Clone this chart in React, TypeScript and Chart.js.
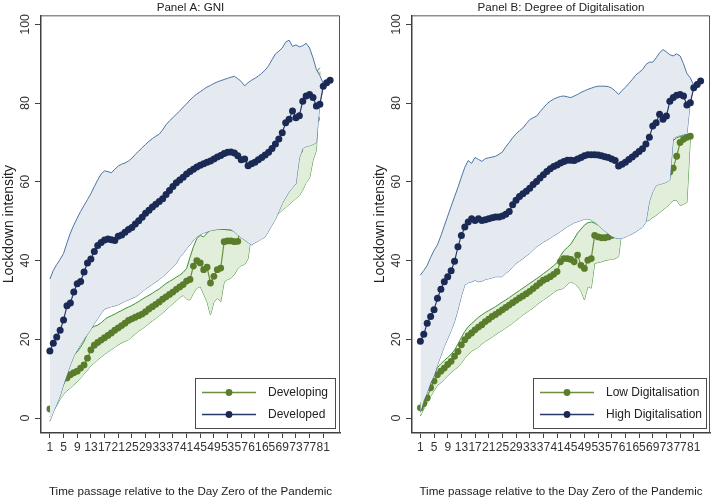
import React, { useEffect, useRef } from "react";
import { Chart, registerables } from "chart.js";

Chart.register(...registerables);

const FONT = '"Liberation Sans", Arial, Helvetica, sans-serif';

// ---------- axis / tick data ----------
const DAY = Array.from({ length: 83 }, (_, k) => k + 1);
const X_TICKS = [1, 5, 9, 13, 17, 21, 25, 29, 33, 37, 41, 45, 49, 53, 57, 61, 65, 69, 73, 77, 81];
const Y_TICKS = [0, 20, 40, 60, 80, 100];

// ---------- Panel A: GNI ----------
const DEVELOPED_A = [
  17.0, 19.0, 20.6, 22.3, 24.9, 28.5, 29.2, 32.0, 34.1, 34.7,
  37.1, 39.4, 40.4, 42.3, 43.8, 44.6, 45.2, 45.5, 45.3, 45.1,
  46.2, 46.5, 47.2, 47.9, 48.4, 49.3, 50.1, 51.0, 52.0, 52.8,
  53.6, 54.3, 55.0, 55.7, 56.8, 57.8, 58.8, 59.8, 60.5, 61.2,
  62.0, 62.6, 63.2, 63.8, 64.2, 64.6, 65.0, 65.3, 65.8, 66.3,
  66.7, 67.2, 67.5, 67.6, 67.3, 66.6, 65.6, 65.8, 64.1, 64.6,
  65.0, 65.6, 66.2, 66.8, 67.5, 68.5, 69.6, 70.9, 72.5, 75.0,
  75.9, 78.0, 76.3, 76.8, 80.5, 81.8, 82.2, 81.4, 79.3, 79.7,
  84.3, 85.2, 85.8,
];
const DEVELOPED_A_HI = [
  35.3, 37.5, 39.0, 40.3, 41.8, 44.5, 47.0, 49.0, 50.8, 52.5,
  54.0, 55.5, 57.0, 58.8, 60.5, 62.0, 62.8, 62.6, 62.3, 63.2,
  64.0, 64.5, 64.8, 65.3, 66.0, 67.0, 67.8, 68.7, 69.5, 70.3,
  71.0, 71.6, 72.1, 73.2, 74.5, 75.5, 76.3, 77.2, 78.0, 79.0,
  79.8, 80.8, 81.6, 82.3, 82.9, 83.5, 84.1, 84.5, 85.0, 85.4,
  85.7, 86.0, 86.3, 86.6, 86.8, 86.2, 85.5, 84.4, 85.2, 85.8,
  86.3, 86.9, 87.6, 88.4, 89.5, 91.0, 92.5, 93.2, 94.0, 95.5,
  96.0, 94.4, 94.8, 94.3, 94.6, 95.2, 94.0, 91.5, 88.5, 87.0,
  85.0,
];
const DEVELOPED_A_LO = [
  -0.8, 1.5, 3.5, 5.6, 8.5, 11.0, 13.5, 15.7, 17.2, 18.7,
  20.0, 21.3, 22.5, 24.0, 25.3, 26.6, 27.7, 28.0, 28.3, 28.5,
  28.8, 29.2, 29.7, 30.0, 30.4, 30.8, 31.4, 32.1, 32.8, 33.4,
  34.0, 34.6, 35.2, 35.9, 36.7, 37.5, 38.4, 39.3, 40.8, 41.8,
  43.0, 44.0, 45.2, 46.0, 46.6, 47.0, 47.3, 47.6, 47.8, 47.9,
  48.0, 48.0, 48.0, 47.9, 47.3, 46.5, 45.8, 45.2, 44.6, 44.0,
  44.5, 45.0, 45.5, 46.0, 47.5, 49.0, 50.5, 52.5, 54.5, 56.0,
  57.5, 58.5, 59.5, 66.0, 68.5, 69.0, 69.2, 69.5, 70.0, 80.0,
  84.0,
];
const DEVELOPING_A = [
  2.3, null, null, null, null, 10.2, 11.0, 11.5, 11.9, 12.7,
  13.5, 15.2, 17.3, 18.5, 19.2, 19.8, 20.4, 21.0, 21.6, 22.3,
  22.9, 23.5, 24.1, 24.8, 25.2, 25.6, 26.0, 26.4, 27.0, 27.7,
  28.3, 28.9, 29.5, 30.2, 30.8, 31.4, 32.0, 32.7, 33.3, 33.9,
  34.8, 35.2, 38.6, 40.0, 39.4, 37.7, 38.3, 34.3, 36.0, 37.7,
  38.1, 44.8, 45.0, 45.0, 44.8, 44.9, 50.0, 51.0, 52.0, 53.0,
  54.0, 55.0, 56.0, 57.0, 58.0, 59.0, 60.0, 61.0, 62.0, 63.0,
  64.0, 65.0, 66.0, 68.0, 71.0, 72.0, 73.0, 74.0, 76.0, 84.0,
];
const DEVELOPING_A_LO = [
  0.3, 1.8, 3.2, 4.8, 6.0, 7.0, 7.6, 8.5, 9.2, 10.2,
  11.2, 12.2, 13.3, 14.0, 14.8, 15.5, 16.2, 16.8, 17.4, 18.0,
  18.6, 19.1, 19.5, 19.9, 20.6, 21.4, 22.1, 22.7, 23.3, 24.0,
  24.7, 25.3, 26.0, 26.7, 27.5, 28.3, 29.0, 29.8, 30.6, 31.2,
  30.2, 30.0, 31.7, 33.0, 33.4, 31.5, 29.5, 26.2, 29.5, 30.4,
  29.6, 34.6, 35.2, 35.5, 36.5, 38.0, 38.8, 39.0, 40.5, 47.0,
  47.5, 48.0, 48.5, 49.5, 50.5, 51.5, 52.0, 52.0, 52.8, 53.5,
  54.2, 55.0, 55.8, 56.5, 58.0, 59.8, 61.0, 65.5, 68.0, 88.0,
];
const DEVELOPING_A_HI = [
  2.5, 3.5, 5.0, 7.0, 10.0, 13.5, 15.0, 16.0, 16.8, 18.0,
  19.5, 21.5, 22.8, 23.3, 23.6, 24.2, 25.0, 25.6, 26.0, 26.4,
  26.9, 27.3, 27.8, 28.2, 28.6, 29.1, 29.6, 30.2, 30.7, 31.2,
  31.7, 32.3, 32.8, 33.5, 34.2, 34.7, 35.2, 35.8, 36.3, 37.0,
  38.0, 40.8, 43.5, 45.6, 46.4, 46.0, 47.0, 47.7, 47.8, 47.9,
  48.0, 47.9, 47.8, 47.7, 47.5, 47.0, 46.8, 47.5, 49.0, 51.0,
  53.0, 54.0, 55.0, 56.0, 58.0, 60.0, 62.0, 64.0, 66.0, 68.0,
  70.0, 72.0, 74.0, 76.0, 78.0, 80.0, 82.0, 85.0, 88.0, 89.0,
];

// ---------- Panel B: Degree of Digitalisation ----------
const HIGH_DIG_B = [
  19.5, 21.3, 24.1, 25.8, 27.5, 30.4, 32.7, 34.6, 35.9, 37.4,
  39.8, 43.5, 46.4, 48.5, 49.8, 50.6, 50.2, 50.6, 50.2, 50.4,
  50.6, 50.9, 51.1, 51.1, 51.3, 51.8, 52.5, 54.2, 55.3, 56.3,
  57.0, 57.6, 58.4, 59.3, 60.1, 61.0, 61.8, 62.6, 63.3, 63.9,
  64.3, 64.8, 65.2, 65.5, 65.5, 65.4, 65.8, 66.2, 66.6, 66.9,
  66.9, 66.9, 66.8, 66.6, 66.4, 66.2, 65.8, 65.4, 64.0, 64.5,
  65.0, 65.7, 66.3, 67.0, 67.7, 68.4, 69.6, 71.3, 74.2, 75.0,
  77.2, 75.9, 76.7, 80.5, 81.4, 82.0, 82.2, 81.8, 79.5, 80.1,
  83.9, 84.7, 85.6,
];
const HIGH_DIG_B_HI = [
  36.3, 37.5, 38.8, 40.8, 42.6, 44.0, 46.3, 48.8, 51.3, 53.8,
  56.2, 58.6, 61.2, 63.7, 65.4, 64.7, 66.2, 65.7, 65.2, 65.9,
  66.1, 66.3, 66.5, 67.0, 67.6, 68.9, 70.0, 71.2, 72.2, 73.0,
  73.7, 74.8, 75.8, 76.3, 76.7, 77.8, 78.8, 79.8, 80.5, 81.0,
  81.4, 81.7, 81.8, 81.6, 81.4, 81.8, 82.2, 82.7, 83.1, 83.5,
  83.8, 84.1, 84.3, 84.3, 84.3, 84.2, 83.8, 83.1, 82.2, 83.2,
  84.0, 85.0, 86.0, 87.1, 87.8, 88.5, 89.8, 90.4, 90.4, 91.5,
  92.8, 93.6, 93.0, 92.3, 92.0, 92.5, 92.0, 90.0, 87.5, 86.4,
  84.5,
];
const HIGH_DIG_B_LO = [
  1.5, 4.5, 6.5, 9.0, 10.8, 13.5, 15.8, 18.2, 20.2, 22.2,
  24.5, 27.5, 31.0, 33.8, 34.4, 34.6, 35.0, 34.6, 34.8, 35.2,
  35.4, 35.6, 35.9, 35.9, 35.9, 36.8, 37.4, 38.4, 39.3, 39.9,
  40.5, 41.2, 41.8, 42.7, 43.5, 44.1, 44.7, 45.2, 45.7, 46.3,
  46.8, 47.4, 48.0, 48.6, 49.1, 49.6, 49.9, 50.2, 50.5, 50.6,
  50.3, 49.8, 49.0, 48.2, 47.5, 46.8, 46.2, 45.8, 45.6, 45.7,
  46.0, 46.4, 46.8, 47.3, 47.9, 48.5, 49.8, 55.0, 57.5, 59.1,
  59.4, 59.6, 59.9, 60.5, 71.0, 71.6, 71.8, 72.0, 72.2, 80.5,
  84.0,
];
const LOW_DIG_B = [
  2.6, 3.7, 5.1, 7.7, 9.4, 11.0, 11.9, 12.7, 13.6, 14.4,
  15.7, 16.9, 18.6, 19.9, 20.9, 21.6, 22.4, 23.1, 23.7, 24.5,
  25.1, 25.8, 26.3, 26.9, 27.5, 28.1, 28.7, 29.3, 29.9, 30.5,
  31.0, 31.6, 32.2, 32.9, 33.6, 34.3, 35.0, 35.4, 35.9, 36.5,
  37.2, 39.7, 40.5, 40.5, 40.3, 39.7, 41.4, 38.8, 38.0, 40.1,
  40.5, 46.4, 46.0, 45.8, 45.8, 46.0, 46.4, 50.0, 51.0, 52.0,
  53.0, 54.0, 55.0, 55.5, 56.0, 57.0, 58.0, 59.0, 60.0, 60.5,
  61.0, 61.5, 62.0, 62.5, 63.5, 66.5, 70.0, 70.8, 71.3, 71.6,
];
const LOW_DIG_B_LO = [
  0.5, 2.3, 3.9, 5.5, 7.0, 8.3, 9.0, 9.8, 10.8, 11.5,
  12.3, 13.0, 14.0, 15.2, 16.2, 17.0, 17.5, 18.0, 18.8, 19.5,
  20.0, 20.6, 21.2, 21.8, 22.3, 22.9, 23.5, 24.1, 24.8, 25.5,
  26.2, 26.8, 27.4, 28.0, 28.7, 29.4, 30.0, 30.6, 31.2, 31.9,
  32.5, 32.7, 33.0, 34.0, 34.6, 34.2, 33.5, 32.3, 30.0, 33.4,
  33.0, 39.3, 39.5, 39.7, 40.0, 40.2, 40.3, 40.5, 41.0, 48.0,
  49.0, 49.5, 50.0, 50.0, 50.0, 50.0, 50.0, 50.3, 51.0, 51.5,
  52.2, 52.9, 53.6, 54.4, 55.3, 55.4, 54.0, 54.3, 54.8, 71.4,
];
const LOW_DIG_B_HI = [
  3.5, 4.8, 6.5, 9.2, 11.2, 12.8, 13.8, 14.6, 15.4, 16.2,
  17.3, 18.8, 20.5, 22.0, 23.2, 24.0, 24.8, 25.6, 26.2, 26.8,
  27.3, 27.8, 28.3, 28.9, 29.5, 30.0, 30.6, 31.2, 31.8, 32.4,
  33.0, 33.6, 34.2, 34.8, 35.4, 36.0, 36.7, 37.3, 38.0, 38.7,
  39.5, 41.2, 42.5, 43.3, 44.2, 45.5, 47.0, 48.0, 49.0, 49.6,
  49.8, 49.5, 49.0, 48.4, 47.8, 47.2, 46.6, 46.1, 45.9, 50.0,
  52.0, 53.0, 54.0, 55.0, 56.0, 57.0, 58.0, 60.0, 62.0, 64.0,
  66.0, 68.0, 69.0, 70.0, 70.5, 71.2, 71.5, 71.8, 72.0, 71.8,
];

// ---------- styling ----------
const N_DOT = "#1b2a55";
const N_LINE = "#2a3a66";
const N_CI = "#4d74a2";
const N_FILL = "#e5eaf1";
const G_DOT = "#5a7d2b";
const G_LINE = "#6b9140";
const G_CI = "#3f8f34";
const G_FILL = "#e1eed9";
const AXIS = "#404040";
const TEXT = "#222222";

type Num = number | null;
const toPoints = (vals: Num[]) => vals.map((v, k) => ({ x: DAY[k], y: v }));

interface PanelCfg {
  title: string;
  gLabel: string;
  nLabel: string;
  g: Num[]; gLo: Num[]; gHi: Num[];
  n: Num[]; nLo: Num[]; nHi: Num[];
  xMin: number; xMax: number;
  padLeft: number; padRight: number;
  legendW: number; legendInset: number;
}

const PANEL_A: PanelCfg = {
  title: "Panel A: GNI",
  gLabel: "Developing",
  nLabel: "Developed",
  g: DEVELOPING_A, gLo: DEVELOPING_A_LO, gHi: DEVELOPING_A_HI,
  n: DEVELOPED_A, nLo: DEVELOPED_A_LO, nHi: DEVELOPED_A_HI,
  xMin: -1.6, xMax: 85.9,
  padLeft: 0, padRight: 17,
  legendW: 140, legendInset: 5,
};
const PANEL_B: PanelCfg = {
  title: "Panel B: Degree of Digitalisation",
  gLabel: "Low Digitalisation",
  nLabel: "High Digitalisation",
  g: LOW_DIG_B, gLo: LOW_DIG_B_LO, gHi: LOW_DIG_B_HI,
  n: HIGH_DIG_B, nLo: HIGH_DIG_B_LO, nHi: HIGH_DIG_B_HI,
  xMin: -1.45, xMax: 85.75,
  padLeft: 14, padRight: 4,
  legendW: 173, legendInset: 4,
};

function makeLegendPlugin(cfg: PanelCfg) {
  return {
    id: "stataFrameLegend",
    afterDraw(chart: any) {
      const { ctx, chartArea } = chart;
      ctx.save();
      // frame top & right
      ctx.strokeStyle = "#555555";
      ctx.lineWidth = 1;
      ctx.beginPath();
      ctx.moveTo(chartArea.left, chartArea.top + 0.5);
      ctx.lineTo(chartArea.right - 0.5, chartArea.top + 0.5);
      ctx.lineTo(chartArea.right - 0.5, chartArea.bottom);
      ctx.stroke();
      // legend
      const w = cfg.legendW;
      const h = 50;
      const x0 = Math.round(chartArea.right - cfg.legendInset - w);
      const y0 = Math.round(chartArea.bottom - 5 - h);
      ctx.fillStyle = "#ffffff";
      ctx.fillRect(x0, y0, w, h);
      ctx.strokeStyle = "#4a4a4a";
      ctx.lineWidth = 1;
      ctx.strokeRect(x0 + 0.5, y0 + 0.5, w, h);
      const items = [
        { label: cfg.gLabel, line: G_LINE, dot: G_DOT },
        { label: cfg.nLabel, line: N_LINE, dot: N_DOT },
      ];
      items.forEach((it, k) => {
        const cy = y0 + 14.5 + 22 * k;
        ctx.strokeStyle = it.line;
        ctx.lineWidth = 1.3;
        ctx.beginPath();
        ctx.moveTo(x0 + 7, cy);
        ctx.lineTo(x0 + 61, cy);
        ctx.stroke();
        ctx.fillStyle = it.dot;
        ctx.beginPath();
        ctx.arc(x0 + 34, cy, 3.4, 0, Math.PI * 2);
        ctx.fill();
        ctx.fillStyle = TEXT;
        ctx.font = `12px ${FONT}`;
        ctx.textBaseline = "middle";
        ctx.textAlign = "left";
        ctx.fillText(it.label, x0 + 73, cy + 0.5);
      });
      ctx.restore();
    },
  };
}

function Panel({ cfg }: { cfg: PanelCfg }) {
  const ref = useRef<HTMLCanvasElement>(null);
  useEffect(() => {
    const canvas = ref.current;
    if (!canvas) return;
    const ciLine = (data: Num[], color: string, order: number, fill: any, bg?: string) => ({
      data: toPoints(data),
      borderColor: color,
      borderWidth: 1,
      pointRadius: 0,
      fill,
      backgroundColor: bg ?? "rgba(0,0,0,0)",
      tension: 0,
      order,
    });
    const chart = new Chart(canvas, {
      type: "line",
      data: {
        datasets: [
          { label: "g_lo", ...ciLine(cfg.gLo, G_CI, 6, false) },
          { label: "g_hi", ...ciLine(cfg.gHi, G_CI, 5, 0, G_FILL) },
          {
            label: cfg.gLabel,
            data: toPoints(cfg.g),
            borderColor: G_LINE,
            borderWidth: 1.2,
            pointRadius: 3.4,
            pointBackgroundColor: G_DOT,
            pointBorderWidth: 0,
            spanGaps: true,
            fill: false,
            tension: 0,
            order: 4,
          },
          { label: "n_lo", ...ciLine(cfg.nLo, N_CI, 3, false) },
          { label: "n_hi", ...ciLine(cfg.nHi, N_CI, 2, 3, N_FILL) },
          {
            label: cfg.nLabel,
            data: toPoints(cfg.n),
            borderColor: N_LINE,
            borderWidth: 1.2,
            pointRadius: 3.5,
            pointBackgroundColor: N_DOT,
            pointBorderWidth: 0,
            fill: false,
            tension: 0,
            order: 1,
          },
        ] as any,
      },
      options: {
        responsive: false,
        maintainAspectRatio: false,
        animation: false,
        devicePixelRatio: 1,
        events: [],
        layout: { padding: { left: cfg.padLeft, right: cfg.padRight, top: 0, bottom: 0 } },
        plugins: {
          legend: { display: false },
          tooltip: { enabled: false },
          title: {
            display: true,
            text: cfg.title,
            fullSize: false,
            color: TEXT,
            font: { family: FONT, size: 11.6, weight: "normal", lineHeight: 1.15 },
            padding: { top: 1, bottom: 1 },
          },
        },
        scales: {
          x: {
            type: "linear",
            min: cfg.xMin,
            max: cfg.xMax,
            afterBuildTicks: (s: any) => {
              s.ticks = X_TICKS.map((v) => ({ value: v }));
            },
            afterFit: (s: any) => {
              s.height = 69;
            },
            ticks: {
              autoSkip: false,
              maxRotation: 0,
              minRotation: 0,
              padding: 2,
              color: "#333333",
              font: { family: FONT, size: 12 },
              callback: (v: any) => String(v),
            },
            grid: {
              display: true,
              drawOnChartArea: false,
              drawTicks: true,
              tickLength: 5,
              color: AXIS,
              lineWidth: 1,
            },
            border: { display: true, color: AXIS, width: 1.5 },
            title: {
              display: true,
              text: "Time passage relative to the Day Zero of the Pandemic",
              color: TEXT,
              font: { family: FONT, size: 11.6 },
              padding: { top: 0, bottom: 3 },
            },
          },
          y: {
            type: "linear",
            min: -3.8,
            max: 102.3,
            afterBuildTicks: (s: any) => {
              s.ticks = Y_TICKS.map((v) => ({ value: v }));
            },
            afterFit: (s: any) => {
              s.width = 41;
            },
            ticks: {
              minRotation: 90,
              maxRotation: 90,
              crossAlign: "center",
              padding: -1,
              color: "#333333",
              font: { family: FONT, size: 12.5 },
              callback: (v: any) => String(v),
            },
            grid: {
              display: true,
              drawOnChartArea: false,
              drawTicks: true,
              tickLength: 6,
              color: AXIS,
              lineWidth: 1,
            },
            border: { display: true, color: AXIS, width: 1.5 },
            title: {
              display: true,
              text: "Lockdown intensity",
              color: TEXT,
              font: { family: FONT, size: 14 },
              padding: { top: 1, bottom: 0 },
            },
          },
        },
      } as any,
      plugins: [makeLegendPlugin(cfg)],
    });
    return () => chart.destroy();
  }, [cfg]);
  return (
    <canvas
      ref={ref}
      width={357}
      height={502}
      style={{ display: "block", width: 357, height: 502 }}
    />
  );
}

export default function App() {
  return (
    <div
      style={{
        position: "absolute",
        left: 0,
        top: 0,
        width: 714,
        height: 502,
        display: "flex",
        background: "#ffffff",
      }}
    >
      <Panel cfg={PANEL_A} />
      <Panel cfg={PANEL_B} />
    </div>
  );
}
